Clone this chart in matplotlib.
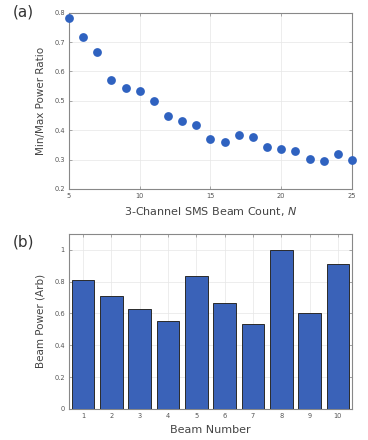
import matplotlib
matplotlib.use("Agg")
import matplotlib.pyplot as plt

# Panel (a) data
beam_count = [5, 6, 7, 8, 9, 10, 11, 12, 13, 14, 15, 16, 17, 18, 19, 20, 21, 22, 23, 24, 25]
power_ratio = [0.781, 0.717, 0.665, 0.572, 0.543, 0.534, 0.500, 0.449, 0.433, 0.417,
               0.371, 0.360, 0.385, 0.376, 0.344, 0.335, 0.329, 0.302, 0.295, 0.320, 0.299]

# Panel (b) data
beam_number = [1, 2, 3, 4, 5, 6, 7, 8, 9, 10]
beam_power = [0.808, 0.712, 0.630, 0.555, 0.835, 0.666, 0.532, 1.0, 0.601, 0.910]

a_xticks = [5, 10, 15, 20, 25]
a_yticks = [0.2, 0.3, 0.4, 0.5, 0.6, 0.7, 0.8]
b_yticks = [0, 0.2, 0.4, 0.6, 0.8, 1.0]

fig = plt.figure(figsize=(3.68, 4.4), dpi=100)
fig.patch.set_facecolor("white")

tick_col = "#555555"
spine_col = "#888888"
label_col = "#444444"

def style(ax):
    for s in ax.spines.values():
        s.set_color(spine_col)
        s.set_linewidth(0.8)
    ax.tick_params(direction="in", length=2.5, width=0.5, colors=spine_col,
                   labelcolor=tick_col, labelsize=4.8, top=True, right=True, pad=3)
    ax.grid(True, color="#e6e6e6", linewidth=0.5)
    ax.set_axisbelow(True)

ax1 = fig.add_axes([0.1875, 0.5705, 0.769, 0.4007])
ax1.scatter(beam_count, power_ratio, s=40, color="#2f62c0", zorder=3, clip_on=False, linewidths=0)
ax1.set_xlim(5, 25)
ax1.set_ylim(0.2, 0.8)
ax1.set_xticks(a_xticks)
ax1.set_yticks(a_yticks)
ax1.set_yticklabels(["0.2", "0.3", "0.4", "0.5", "0.6", "0.7", "0.8"])
style(ax1)
ax1.set_xlabel("3-Channel SMS Beam Count, $\\mathit{N}$", fontsize=8, color=label_col, labelpad=4)
ax1.set_ylabel("Min/Max Power Ratio", fontsize=7.5, color=label_col, labelpad=6)

ax2 = fig.add_axes([0.1875, 0.0705, 0.769, 0.398])
ax2.bar(beam_number, beam_power, width=0.8, color="#3a62b8", edgecolor="#2a2a2a", linewidth=0.7, zorder=3)
ax2.set_xlim(0.5, 10.5)
ax2.set_ylim(0, 1.1)
ax2.set_xticks(beam_number)
ax2.set_yticks(b_yticks)
ax2.set_yticklabels(["0", "0.2", "0.4", "0.6", "0.8", "1"])
style(ax2)
ax2.set_xlabel("Beam Number", fontsize=8, color=label_col, labelpad=4)
ax2.set_ylabel("Beam Power (Arb)", fontsize=7.5, color=label_col, labelpad=6)

fig.text(0.035, 0.972, "(a)", fontsize=11, color="#333333", va="center", ha="left")
fig.text(0.035, 0.45, "(b)", fontsize=11, color="#333333", va="center", ha="left")

fig.savefig("out.png", dpi=100, facecolor="white")
